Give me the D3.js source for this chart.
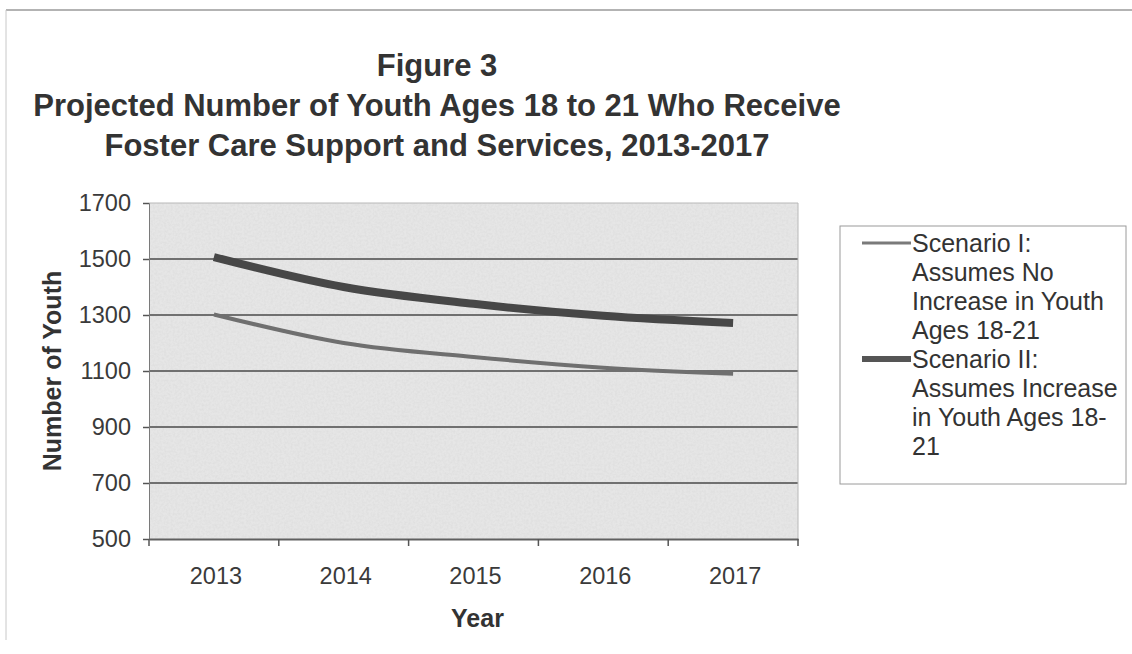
<!DOCTYPE html>
<html>
<head>
<meta charset="utf-8">
<script src="https://cdn.jsdelivr.net/npm/d3@7"></script>
<style>
  html, body { margin: 0; padding: 0; background: #fff; }
  svg { display: block; }
  text { font-family: "Liberation Sans", Arial, sans-serif; fill: #3a3a3a; }
</style>
</head>
<body>
<svg id="chart" width="1132" height="654"></svg>
<script>
// Projection years and the two scenario series
const years = ["2013", "2014", "2015", "2016", "2017"];
const scenarioI = [1302, 1200, 1150, 1112, 1090];
const scenarioII = [1507, 1400, 1340, 1297, 1271];
const yTicks = [500, 700, 900, 1100, 1300, 1500, 1700];

const titleLines = [
  "Figure 3",
  "Projected Number of Youth Ages 18 to 21 Who Receive",
  "Foster Care Support and Services, 2013-2017"
];
const legendI = ["Scenario I:", "Assumes No", "Increase in Youth", "Ages 18-21"];
const legendII = ["Scenario II:", "Assumes Increase", "in Youth Ages 18-", "21"];

const svg = d3.select("#chart");
const W = 1132, H = 654;
const plot = { left: 149, right: 798, top: 203, bottom: 539 };

// grain texture used on the plot area fill
const defs = svg.append("defs");
const grain = defs.append("filter").attr("id", "grain")
  .attr("x", 0).attr("y", 0).attr("width", "100%").attr("height", "100%");
grain.append("feTurbulence")
  .attr("type", "fractalNoise").attr("baseFrequency", 0.45)
  .attr("numOctaves", 2).attr("seed", 7).attr("result", "noise");
grain.append("feColorMatrix").attr("in", "noise").attr("type", "matrix")
  .attr("values", "0 0 0 0 0.55  0 0 0 0 0.55  0 0 0 0 0.55  0 0 0 -1.1 0.75")
  .attr("result", "speck");
grain.append("feComposite").attr("in", "speck").attr("in2", "SourceGraphic")
  .attr("operator", "in");

// page frame (top and left edges)
svg.append("line").attr("x1", 6).attr("x2", W).attr("y1", 10).attr("y2", 10)
  .attr("stroke", "#9a9a9a").attr("stroke-width", 1.5);
svg.append("line").attr("x1", 6).attr("x2", 6).attr("y1", 10).attr("y2", 640)
  .attr("stroke", "#c8c8c8").attr("stroke-width", 1);

// title
const titleY = [76, 116, 156];
titleLines.forEach((t, i) => {
  svg.append("text")
    .attr("x", 437).attr("y", titleY[i])
    .attr("text-anchor", "middle")
    .style("font-size", "31px").style("font-weight", "bold").style("fill", "#333")
    .text(t);
});

const x = d3.scaleBand().domain(years).range([plot.left, plot.right]).padding(0);
const y = d3.scaleLinear().domain([500, 1700]).range([plot.bottom, plot.top]);

// plot area background with light grain
svg.append("rect")
  .attr("x", plot.left).attr("y", plot.top)
  .attr("width", plot.right - plot.left).attr("height", plot.bottom - plot.top)
  .attr("fill", "#e6e6e6");
svg.append("rect")
  .attr("x", plot.left).attr("y", plot.top)
  .attr("width", plot.right - plot.left).attr("height", plot.bottom - plot.top)
  .attr("fill", "#e6e6e6").attr("filter", "url(#grain)").attr("opacity", 0.35);

// horizontal gridlines
svg.append("g").selectAll("line")
  .data(yTicks.filter(v => v > 500))
  .join("line")
  .attr("x1", plot.left).attr("x2", plot.right)
  .attr("y1", d => y(d)).attr("y2", d => y(d))
  .attr("stroke", d => d === 1700 ? "#b8b8b8" : "#707070")
  .attr("stroke-width", d => d === 1700 ? 1 : 2);

// right edge of plot area
svg.append("line")
  .attr("x1", plot.right).attr("x2", plot.right)
  .attr("y1", plot.top).attr("y2", plot.bottom)
  .attr("stroke", "#b8b8b8").attr("stroke-width", 1);

// y axis
const yAxis = svg.append("g")
  .attr("transform", `translate(${plot.left},0)`)
  .call(d3.axisLeft(y).tickValues(yTicks).tickSize(6).tickPadding(12).tickFormat(d3.format("d")));
yAxis.select(".domain").attr("stroke", "#7a7a7a").attr("stroke-width", 1);
yAxis.selectAll(".tick line").attr("stroke", "#555").attr("stroke-width", 1.5);
yAxis.selectAll(".tick text")
  .style("font-size", "23.5px").style("fill", "#3a3a3a").attr("font-family", null);

// x axis
const xAxis = svg.append("g")
  .attr("transform", `translate(0,${plot.bottom})`)
  .call(d3.axisBottom(x).tickSize(0).tickPadding(28));
xAxis.select(".domain").attr("stroke", "#606060").attr("stroke-width", 2);
xAxis.selectAll(".tick text")
  .attr("dx", 2)
  .style("font-size", "23.5px").style("fill", "#3a3a3a").attr("font-family", null);
// category boundary ticks
const bounds = years.map(d => x(d)).concat([x(years[years.length - 1]) + x.bandwidth()]);
svg.append("g").selectAll("line")
  .data(bounds)
  .join("line")
  .attr("x1", d => d).attr("x2", d => d)
  .attr("y1", plot.bottom).attr("y2", plot.bottom + 7)
  .attr("stroke", "#555").attr("stroke-width", 1.5);

// axis titles
svg.append("text")
  .attr("transform", `translate(61,${(plot.top + plot.bottom) / 2}) rotate(-90)`)
  .attr("text-anchor", "middle")
  .style("font-size", "25px").style("font-weight", "bold").style("fill", "#333")
  .text("Number of Youth");
svg.append("text")
  .attr("x", (plot.left + plot.right) / 2 + 4).attr("y", 627)
  .attr("text-anchor", "middle")
  .style("font-size", "25px").style("font-weight", "bold").style("fill", "#333")
  .text("Year");

// smoothed series lines
const line = d3.line()
  .x((d, i) => x(years[i]) + x.bandwidth() / 2)
  .y(d => y(d))
  .curve(d3.curveCardinal);

svg.append("path").datum(scenarioI)
  .attr("d", line).attr("fill", "none")
  .attr("stroke", "#6f6f6f").attr("stroke-width", 4)
  .attr("stroke-linecap", "butt");
svg.append("path").datum(scenarioII)
  .attr("d", line).attr("fill", "none")
  .attr("stroke", "#474747").attr("stroke-width", 8)
  .attr("stroke-linecap", "butt");

// legend
const lg = { left: 840, right: 1126, top: 226, bottom: 484 };
svg.append("rect")
  .attr("x", lg.left).attr("y", lg.top)
  .attr("width", lg.right - lg.left).attr("height", lg.bottom - lg.top)
  .attr("fill", "#fff").attr("stroke", "#9a9a9a").attr("stroke-width", 1);

const lineH = 29;
const firstY = 243;
const legendItems = [
  { lines: legendI, color: "#7a7a7a", width: 3 },
  { lines: legendII, color: "#555", width: 6 }
];
let row = 0;
legendItems.forEach(item => {
  const cy = firstY + row * lineH;
  svg.append("line")
    .attr("x1", 862).attr("x2", 911).attr("y1", cy).attr("y2", cy)
    .attr("stroke", item.color).attr("stroke-width", item.width);
  item.lines.forEach((t, j) => {
    svg.append("text")
      .attr("x", 912).attr("y", firstY + (row + j) * lineH)
      .attr("dy", "0.35em")
      .style("font-size", "25px").style("fill", "#333")
      .text(t);
  });
  row += item.lines.length;
});
</script>
</body>
</html>
